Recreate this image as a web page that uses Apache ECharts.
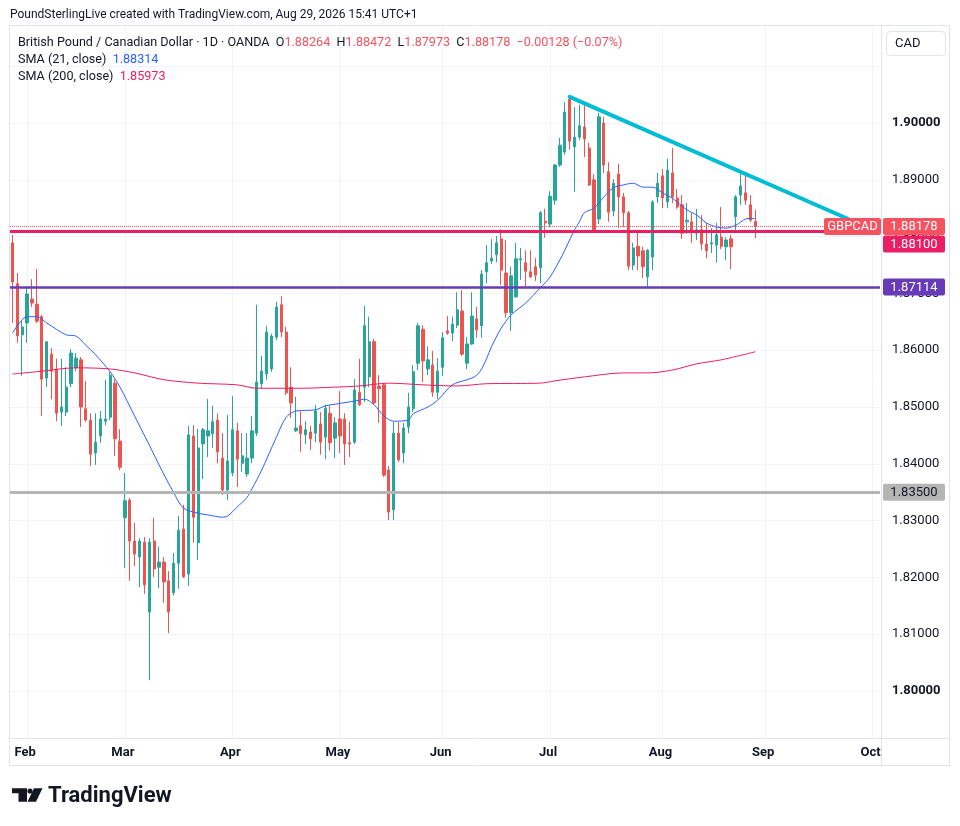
<!DOCTYPE html>
<html lang="en">
<head>
<meta charset="UTF-8">
<title>GBPCAD 1D</title>
<script src="https://cdn.jsdelivr.net/npm/echarts@6/dist/echarts.min.js"></script>
<style>
    html, body { margin: 0; padding: 0; background: #fff; }
    #main { width: 960px; height: 826px; }
</style>
</head>
<body>
<div id="main"></div>
<script>
// daily candles, weekdays 28 Jan .. 28 Aug 2026
var openVals = [1.8789,1.8717,1.8627,1.8648,1.8690,1.8681,1.8659,1.8551,1.8593,1.8567,
    1.8491,1.8491,1.8541,1.8569,1.8583,1.8497,1.8477,1.8419,1.8449,1.8475,
    1.8482,1.8542,1.8440,1.8305,1.8336,1.8264,1.8236,1.8262,1.8139,1.8264,
    1.8218,1.8227,1.8194,1.8173,1.8225,1.8285,1.8206,1.8449,1.8261,1.8435,
    1.8449,1.8453,1.8477,1.8410,1.8354,1.8384,1.8458,1.8401,1.8382,1.8410,
    1.8454,1.8541,1.8558,1.8567,1.8623,1.8680,1.8632,1.8535,1.8458,1.8467,
    1.8451,1.8456,1.8454,1.8470,1.8447,1.8489,1.8445,1.8479,1.8479,1.8437,
    1.8438,1.8526,1.8535,1.8553,1.8615,1.8537,1.8539,1.8389,1.8319,1.8454,
    1.8419,1.8465,1.8497,1.8577,1.8637,1.8567,1.8574,1.8526,1.8570,1.8634,
    1.8630,1.8644,1.8669,1.8577,1.8611,1.8655,1.8643,1.8738,1.8757,1.8768,
    1.8796,1.8736,1.8666,1.8694,1.8759,1.8754,1.8738,1.8747,1.8745,1.8827,
    1.8822,1.8864,1.8926,1.8949,1.9042,1.8958,1.8975,1.8993,1.8956,1.8900,
    1.8831,1.9000,1.8914,1.8845,1.8910,1.8870,1.8842,1.8750,1.8783,1.8775,
    1.8729,1.8764,1.8870,1.8907,1.8861,1.8912,1.8868,1.8856,1.8826,1.8826,
    1.8806,1.8812,1.8787,1.8787,1.8785,1.8799,1.8782,1.8796,1.8835,1.8873,
    1.8877,1.8856,1.88264];
var closeVals = [1.8720,1.8625,1.8641,1.8699,1.8683,1.8651,1.8549,1.8615,1.8563,1.8489,
    1.8500,1.8535,1.8595,1.8586,1.8500,1.8477,1.8417,1.8438,1.8479,1.8479,
    1.8556,1.8444,1.8394,1.8335,1.8264,1.8241,1.8264,1.8187,1.8262,1.8215,
    1.8227,1.8192,1.8139,1.8225,1.8283,1.8201,1.8451,1.8306,1.8428,1.8460,
    1.8458,1.8474,1.8421,1.8354,1.8405,1.8460,1.8408,1.8414,1.8410,1.8458,
    1.8544,1.8563,1.8632,1.8625,1.8676,1.8632,1.8525,1.8507,1.8463,1.8453,
    1.8460,1.8444,1.8493,1.8438,1.8498,1.8437,1.8472,1.8449,1.8435,1.8435,
    1.8530,1.8504,1.8643,1.8615,1.8507,1.8532,1.8380,1.8315,1.8454,1.8407,
    1.8463,1.8500,1.8562,1.8643,1.8581,1.8583,1.8526,1.8563,1.8622,1.8630,
    1.8646,1.8671,1.8593,1.8611,1.8660,1.8636,1.8734,1.8754,1.8762,1.8789,
    1.8741,1.8666,1.8731,1.8761,1.8761,1.8739,1.8729,1.8732,1.8842,1.8824,
    1.8871,1.8926,1.8961,1.9019,1.8968,1.8975,1.8995,1.8972,1.8891,1.8812,
    1.9011,1.8926,1.8843,1.8894,1.8870,1.8842,1.8748,1.8780,1.8766,1.8747,
    1.8776,1.8861,1.8894,1.8868,1.8917,1.8870,1.8852,1.8806,1.8829,1.8808,
    1.8812,1.8787,1.8775,1.8789,1.8803,1.8783,1.8794,1.8782,1.8870,1.8889,
    1.8864,1.8829,1.88178];
var lowVals = [1.8648,1.8613,1.8555,1.8613,1.8676,1.8648,1.8484,1.8535,1.8514,1.8475,
    1.8467,1.8484,1.8535,1.8563,1.8465,1.8474,1.8396,1.8398,1.8437,1.8468,
    1.8477,1.8414,1.8389,1.8217,1.8194,1.8220,1.8183,1.8171,1.8019,1.8201,
    1.8181,1.8155,1.8102,1.8168,1.8180,1.8199,1.8185,1.8261,1.8231,1.8373,
    1.8412,1.8428,1.8401,1.8345,1.8336,1.8378,1.8359,1.8386,1.8377,1.8401,
    1.8449,1.8532,1.8548,1.8562,1.8618,1.8623,1.8521,1.8481,1.8456,1.8421,
    1.8435,1.8424,1.8438,1.8416,1.8408,1.8423,1.8410,1.8419,1.8398,1.8412,
    1.8435,1.8502,1.8509,1.8535,1.8504,1.8472,1.8377,1.8301,1.8301,1.8403,
    1.8401,1.8454,1.8491,1.8565,1.8544,1.8556,1.8518,1.8514,1.8555,1.8627,
    1.8616,1.8639,1.8590,1.8567,1.8609,1.8622,1.8622,1.8718,1.8752,1.8755,
    1.8715,1.8657,1.8634,1.8692,1.8724,1.8708,1.8727,1.8722,1.8718,1.8798,
    1.8817,1.8856,1.8923,1.8944,1.8953,1.8879,1.8970,1.8940,1.8889,1.8808,
    1.8822,1.8912,1.8826,1.8836,1.8815,1.8817,1.8741,1.8741,1.8741,1.8727,
    1.8711,1.8741,1.8859,1.8850,1.8850,1.8859,1.8849,1.8796,1.8805,1.8789,
    1.8794,1.8776,1.8762,1.8771,1.8754,1.8778,1.8759,1.8743,1.8812,1.8856,
    1.8856,1.8826,1.87973];
var highVals = [1.8803,1.8736,1.8653,1.8710,1.8725,1.8743,1.8662,1.8616,1.8604,1.8585,
    1.8585,1.8570,1.8602,1.8595,1.8588,1.8546,1.8489,1.8489,1.8493,1.8548,
    1.8562,1.8549,1.8461,1.8384,1.8340,1.8296,1.8269,1.8271,1.8269,1.8305,
    1.8254,1.8236,1.8211,1.8243,1.8308,1.8328,1.8467,1.8468,1.8461,1.8463,
    1.8514,1.8502,1.8489,1.8454,1.8486,1.8519,1.8472,1.8454,1.8454,1.8484,
    1.8680,1.8590,1.8643,1.8629,1.8685,1.8695,1.8641,1.8570,1.8518,1.8493,
    1.8475,1.8467,1.8504,1.8491,1.8504,1.8502,1.8482,1.8528,1.8489,1.8474,
    1.8549,1.8585,1.8678,1.8659,1.8620,1.8556,1.8542,1.8396,1.8474,1.8474,
    1.8472,1.8525,1.8574,1.8648,1.8644,1.8607,1.8599,1.8586,1.8632,1.8660,
    1.8659,1.8702,1.8706,1.8623,1.8702,1.8676,1.8741,1.8785,1.8796,1.8801,
    1.8813,1.8794,1.8747,1.8789,1.8780,1.8776,1.8776,1.8762,1.8845,1.8849,
    1.8880,1.8928,1.8974,1.9037,1.9046,1.9028,1.9032,1.9035,1.8965,1.8910,
    1.9018,1.9011,1.8931,1.8901,1.8928,1.8877,1.8845,1.8789,1.8812,1.8782,
    1.8778,1.8864,1.8912,1.8919,1.8937,1.8956,1.8884,1.8873,1.8859,1.8842,
    1.8849,1.8838,1.8824,1.8815,1.8824,1.8852,1.8799,1.8803,1.8873,1.8912,
    1.8909,1.8873,1.88472];

// moving averages, read at some bars (bar index on the weekday axis)
var sma21Idx = [0,3,5,7,11,13,15,17,20,22,25,28,30,33,35,38,40,43,44,46,48,49,51,54,56,58,
    62,64,66,69,71,72,74,76,78,81,82,85,87,90,93,94,95,96,97,98,99,100,102,105,108,110,
    112,113,114,115,116,117,119,121,123,125,127,129,131,133,135,136,138,140,142,144,146,
    148,150,151,152];
var sma21Vals = [1.8630,1.8659,1.8659,1.8648,1.8627,1.8625,1.8609,1.8592,1.8562,1.8535,
    1.8484,1.8433,1.8398,1.8349,1.8322,1.8313,1.8310,1.8306,1.8308,1.8324,1.8341,1.8356,
    1.8389,1.8447,1.8482,1.8493,1.8495,1.8502,1.8505,1.8509,1.8512,1.8514,1.8504,1.8484,
    1.8475,1.8477,1.8488,1.8500,1.8512,1.8539,1.8548,1.8551,1.8556,1.8567,1.8585,1.8606,
    1.8623,1.8639,1.8662,1.8683,1.8710,1.8729,1.8759,1.8776,1.8794,1.8812,1.8826,1.8842,
    1.8850,1.8870,1.8886,1.8891,1.8894,1.8887,1.8887,1.8877,1.8868,1.8861,1.8847,1.8838,
    1.8824,1.8817,1.8815,1.8820,1.8831,1.8832,1.88314];
var sma200Idx = [0,6,13,20,25,31,38,46,50,59,66,71,77,84,91,97,108,111,117,125,130,135,140,145,152];
var sma200Vals = [1.8558,1.8563,1.8569,1.8567,1.8560,1.8548,1.8542,1.8539,1.8533,1.8533,
    1.8535,1.8537,1.8542,1.8539,1.8537,1.8541,1.8542,1.8546,1.8553,1.8560,1.8560,1.8565,
    1.8576,1.8583,1.85973];

// drawings
var lastPrice = 1.88178;
var levelVals = [1.88100, 1.87114, 1.83500];
var levelColors = ['#e91e63', '#673ab7', '#b5b5b5'];
var levelWidths = [3, 2.5, 3];
var trendIdx = [114, 171];
var trendVals = [1.9046, 1.8831];

var FONT = 'Roboto, "Noto Sans", sans-serif';
var INK = '#131722';
var LINE = '#e0e3eb';
var UP = '#26a69a', DOWN = '#ef5350';

// weekday calendar, runs on past the last candle to early October
var categories = [];
var day = new Date(Date.UTC(2026, 0, 28));
while (categories.length < 178) {
    var wd = day.getUTCDay();
    if (wd !== 0 && wd !== 6) categories.push(day.toISOString().slice(0, 10));
    day.setUTCDate(day.getUTCDate() + 1);
}
var monthNames = ['Jan', 'Feb', 'Mar', 'Apr', 'May', 'Jun', 'Jul', 'Aug', 'Sep', 'Oct', 'Nov', 'Dec'];
function monthStart(i) {
    return i > 0 && categories[i].slice(5, 7) !== categories[i - 1].slice(5, 7);
}

var candles = openVals.map(function (o, i) {
    return [o, closeVals[i], lowVals[i], highVals[i]];
});
var sma21 = sma21Idx.map(function (x, i) { return [x, sma21Vals[i]]; });
var sma200 = sma200Idx.map(function (x, i) { return [x, sma200Vals[i]]; });
var trend = trendIdx.map(function (x, i) { return [x, trendVals[i]]; });

var levelLines = [{ yAxis: lastPrice, lineStyle: { color: '#f7525f', type: 'dotted', width: 1 } }];
levelVals.forEach(function (v, i) {
    levelLines.push({ yAxis: v, lineStyle: { color: levelColors[i], width: levelWidths[i], type: 'solid' } });
});

var chart = echarts.init(document.getElementById('main'));

var option = {
    animation: false,
    backgroundColor: '#fff',
    grid: { left: 10, right: 80, top: 9.4, bottom: 78.2 },
    xAxis: [{
        type: 'category',
        data: categories,
        boundaryGap: true,
        axisLine: { show: false },
        axisTick: { show: false },
        axisLabel: { show: false },
        splitLine: {
            show: true,
            alignWithLabel: true,
            interval: function (i) { return monthStart(i); },
            lineStyle: { color: '#f0f3fa', width: 1 }
        }
    }, {
        type: 'category',
        data: categories,
        position: 'bottom',
        offset: -9.4,
        z: 10,
        axisLine: { show: false },
        axisTick: { show: false },
        splitLine: { show: false },
        axisLabel: {
            interval: function (i) { return monthStart(i); },
            formatter: function (v) { return monthNames[+v.slice(5, 7) - 1]; },
            margin: 8,
            padding: [0, 4, 0, 0],
            color: INK,
            fontSize: 13,
            fontWeight: 'bold',
            fontFamily: FONT
        }
    }],
    yAxis: {
        type: 'value',
        position: 'right',
        min: 1.79,
        max: 1.92,
        interval: 0.01,
        axisLine: { show: false },
        axisTick: { show: false },
        splitLine: { lineStyle: { color: '#f0f3fa', width: 1 } },
        axisLabel: {
            margin: 12,
            color: INK,
            fontSize: 13,
            fontFamily: FONT,
            formatter: function (v) {
                var r = Math.round(v * 100);
                if (r < 180 || r > 190) return '';
                return r % 10 === 0 ? '{b|' + v.toFixed(5) + '}' : v.toFixed(5);
            },
            rich: { b: { fontWeight: 'bold', fontSize: 13, color: INK, fontFamily: FONT } }
        }
    },
    series: [{
        name: 'GBPCAD',
        type: 'candlestick',
        data: candles,
        barWidth: 2.8,
        z: 2,
        itemStyle: { color: UP, color0: DOWN, borderColor: UP, borderColor0: DOWN, borderWidth: 1 },
        markLine: {
            silent: true,
            precision: 6,
            symbol: ['none', 'none'],
            label: { show: false },
            animation: false,
            data: levelLines
        }
    }, {
        name: 'SMA 21',
        type: 'line',
        data: sma21,
        smooth: 0.3,
        showSymbol: false,
        z: 3,
        lineStyle: { color: '#2962ff', width: 1 }
    }, {
        name: 'SMA 200',
        type: 'line',
        data: sma200,
        smooth: 0.3,
        showSymbol: false,
        z: 3,
        lineStyle: { color: '#e91e63', width: 1 }
    }, {
        name: 'trend',
        type: 'line',
        data: trend,
        showSymbol: false,
        z: 6,
        lineStyle: { color: '#00bcd4', width: 4, cap: 'round' }
    }]
};
chart.setOption(option);

// frame, header, price tags and logo
function yPix(v) { return chart.convertToPixel({ yAxisIndex: 0 }, v); }
function tag(x, w, top, bg, text, fg) {
    return [
        { type: 'rect', z: 40, shape: { x: x, y: top, width: w, height: 17, r: 2 }, style: { fill: bg } },
        { type: 'text', z: 41, x: x + w / 2, y: top + 9, style: { text: text, fill: fg || '#fff', font: '13px ' + FONT, align: 'center', verticalAlign: 'middle' } }
    ];
}
function hline(x1, x2, y) {
    return { type: 'line', z: 30, shape: { x1: x1, y1: y, x2: x2, y2: y }, style: { stroke: LINE, lineWidth: 1 } };
}
function vline(x, y1, y2) {
    return { type: 'line', z: 30, shape: { x1: x, y1: y1, x2: x, y2: y2 }, style: { stroke: LINE, lineWidth: 1 } };
}

var LEG = '12.6px ' + FONT;
var lastTop = yPix(lastPrice) - 8.5;
var graphics = [
    // covers for the parts of the grid outside the pane
    { type: 'rect', z: 5, shape: { x: 0, y: 0, width: 960, height: 25.5 }, style: { fill: '#fff' } },
    { type: 'rect', z: 5, shape: { x: 9.5, y: 738.5, width: 940, height: 11 }, style: { fill: '#fff' } },
    hline(9.5, 949.5, 25.5), hline(9.5, 949.5, 738.5), hline(9.5, 949.5, 765.5),
    vline(9.5, 25.5, 765.5), vline(949.5, 25.5, 765.5), vline(881.5, 25.5, 765.5),
    { type: 'text', z: 30, x: 10, y: 15, style: { text: 'PoundSterlingLive created with TradingView.com, Aug 29, 2026 15:41 UTC+1', font: '12px ' + FONT, fill: INK, verticalAlign: 'middle' } },
    { type: 'text', z: 30, x: 18, y: 43, style: {
        text: '{d|British Pound / Canadian Dollar · 1D · OANDA}  {d|O}{r|1.88264}  {d|H}{r|1.88472}  {d|L}{r|1.87973}  {d|C}{r|1.88178}  {r|−0.00128 (−0.07%)}',
        verticalAlign: 'middle', font: LEG,
        rich: { d: { fill: INK, font: LEG }, r: { fill: '#f7525f', font: LEG } }
    } },
    { type: 'text', z: 30, x: 18, y: 60, style: {
        text: '{d|SMA (21, close)}  {b|1.88314}', verticalAlign: 'middle', font: LEG,
        rich: { d: { fill: INK, font: LEG }, b: { fill: '#2962ff', font: LEG } }
    } },
    { type: 'text', z: 30, x: 18, y: 77, style: {
        text: '{d|SMA (200, close)}  {p|1.85973}', verticalAlign: 'middle', font: LEG,
        rich: { d: { fill: INK, font: LEG }, p: { fill: '#e91e63', font: LEG } }
    } },
    { type: 'rect', z: 30, shape: { x: 886.5, y: 31.5, width: 59, height: 24, r: 4 }, style: { fill: '#fff', stroke: LINE, lineWidth: 1 } },
    { type: 'text', z: 31, x: 895, y: 44, style: { text: 'CAD', font: '13px ' + FONT, fill: INK, verticalAlign: 'middle' } },
    // TradingView logo
    { type: 'polygon', z: 30, shape: { points: [[12, 788.3], [27, 788.3], [27, 801.7], [18.5, 801.7], [18.5, 793.3], [12, 793.3]] }, style: { fill: INK } },
    { type: 'circle', z: 30, shape: { cx: 30, cy: 791, r: 2.6 }, style: { fill: INK } },
    { type: 'polygon', z: 30, shape: { points: [[34, 788.3], [42.5, 788.3], [36, 801.7], [27.5, 801.7]] }, style: { fill: INK } },
    { type: 'text', z: 30, x: 48, y: 796, style: { text: 'TradingView', font: 'bold 22px ' + FONT, fill: INK, verticalAlign: 'middle' } }
];
graphics = graphics.concat(
    tag(824, 57, lastTop, '#f7525f', 'GBPCAD'),
    tag(883, 62, lastTop, '#f7525f', lastPrice.toFixed(5)),
    tag(883, 62, lastTop + 17.5, levelColors[0], levelVals[0].toFixed(5)),
    tag(883, 62, yPix(levelVals[1]) - 8.5, levelColors[1], levelVals[1].toFixed(5)),
    tag(883, 62, yPix(levelVals[2]) - 8.5, levelColors[2], levelVals[2].toFixed(5), INK)
);
chart.setOption({ graphic: graphics });
</script>
</body>
</html>
